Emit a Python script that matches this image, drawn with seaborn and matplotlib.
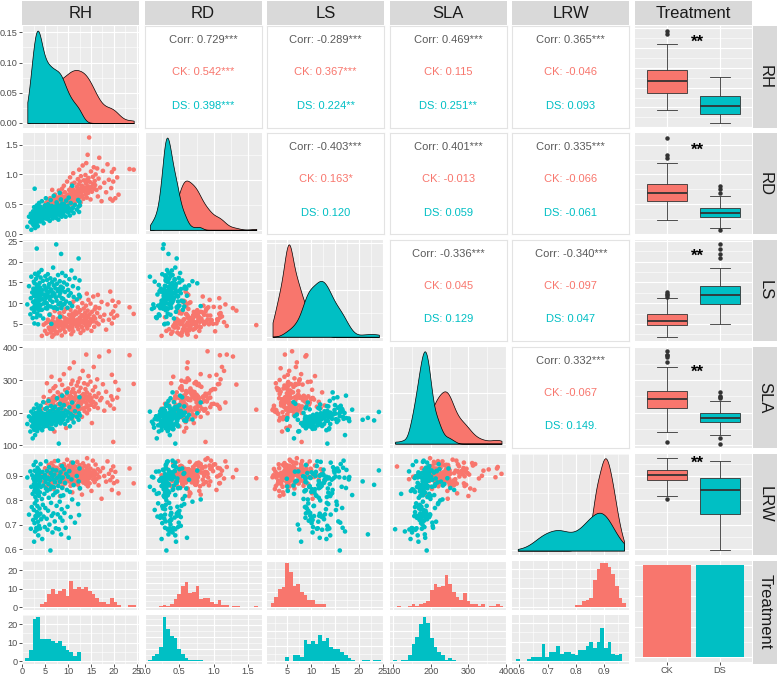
import numpy as np
import pandas as pd
import matplotlib
matplotlib.use("Agg")
import matplotlib.pyplot as plt
import seaborn as sns
from matplotlib.ticker import MultipleLocator, AutoMinorLocator, MaxNLocator, FormatStrFormatter, NullLocator

# ---------------------------------------------------------------- data
variables = ["RH", "RD", "LS", "SLA", "LRW"]
treatments = ["CK", "DS"]

CK_RH = [4.3, 4.7, 5.0, 5.2, 5.4, 5.6, 5.8, 5.9, 6.0, 6.1, 6.2, 6.3, 6.4,
         6.55, 6.62, 6.69, 6.76, 6.83, 6.9, 6.97, 7.04, 7.11, 7.18, 7.25,
         7.4, 7.52, 7.64, 7.76, 7.88, 8.0,
         8.15, 8.23, 8.31, 8.39, 8.47, 8.55, 8.63, 8.71, 8.79,
         8.95, 9.02, 9.09, 9.16, 9.23, 9.3, 9.37, 9.44, 9.51, 9.58,
         9.8, 9.91, 10.02, 10.13, 10.24, 10.35, 10.44,
         10.53, 10.58, 10.63, 10.68, 10.73, 10.78, 10.83, 10.88, 10.93, 10.98, 11.03, 11.08, 11.13, 11.18, 11.23, 11.27,
         11.4, 11.5, 11.6, 11.7, 11.8, 11.9, 12.0,
         12.13, 12.19, 12.25, 12.31, 12.37, 12.43, 12.49, 12.55, 12.61, 12.67, 12.73, 12.8,
         12.95, 13.03, 13.11, 13.19, 13.27, 13.35, 13.43, 13.51, 13.6,
         13.73, 13.79, 13.85, 13.91, 13.97, 14.03, 14.09, 14.15, 14.21, 14.27, 14.33, 14.39, 14.45,
         14.6, 14.7, 14.8, 14.9, 15.0, 15.1, 15.2,
         15.4, 15.5, 15.6, 15.7, 15.8, 15.9, 16.0,
         16.2, 16.35, 16.5, 16.65, 16.8, 17.0, 17.3, 17.6, 17.9, 18.3,
         18.6, 18.9, 19.2, 19.4, 19.55, 19.7, 19.85, 20.0, 20.3, 20.7,
         21.0, 23.4, 24.3]
CK_RD = [0.24, 0.45, 0.31, 0.52, 0.38, 0.56, 0.43, 0.50, 0.35, 0.60, 0.47, 0.53, 0.41, 0.74, 0.49, 0.55, 0.29, 0.51, 0.62, 0.44, 0.57, 0.48, 0.66, 0.53, 0.40,
         0.52, 0.61, 0.46, 0.57, 0.73, 0.50, 0.64, 0.55, 0.42, 0.59, 0.68, 0.53, 0.76, 0.48, 0.62, 0.56, 0.81, 0.51, 0.58, 0.70, 0.54, 0.45, 0.63, 0.60, 0.88,
         0.57, 0.66, 0.52, 0.74, 0.61, 0.95, 0.55, 0.69, 0.63, 0.78, 0.50, 0.72, 0.59, 0.84, 0.65, 0.53, 0.75, 0.68, 1.02, 0.58, 0.73, 0.62, 0.86, 0.67, 0.54,
         0.71, 0.60, 0.79, 0.65, 0.92, 0.74, 0.56, 0.83, 0.68, 1.08, 0.73, 0.62, 0.88, 0.76, 0.53, 0.97, 0.70, 0.81, 0.64, 1.15, 0.75, 0.59, 0.90, 0.72, 0.78,
         0.74, 0.99, 0.66, 0.85, 1.19, 0.77, 0.61, 0.91, 0.73, 1.33, 0.80, 0.69, 0.94, 1.62, 0.75, 0.87, 0.58, 1.05, 0.79, 0.71, 0.96, 0.84, 1.12, 0.76, 0.89,
         0.82, 1.00, 0.74, 1.10, 0.63, 0.93, 1.28, 0.78, 0.55, 1.06, 0.86, 0.70, 1.17, 0.91, 0.59, 0.77, 1.04, 0.56, 0.88, 1.09, 0.60, 0.95, 0.66, 1.09, 1.08]
CK_LS = [2.1, 4.8, 3.3, 5.2, 2.6, 6.0, 4.1, 5.5, 3.7, 7.3, 2.9, 5.0, 4.4, 1.9, 5.8, 3.5, 6.6, 4.9, 2.4, 5.3, 3.9, 8.1, 4.6, 5.1, 3.1,
         5.4, 2.7, 6.2, 4.3, 5.0, 7.6, 3.4, 5.6, 4.7, 9.2, 5.2, 2.2, 6.8, 4.0, 5.3, 3.8, 7.9, 5.1, 4.5, 6.4, 3.0, 5.7, 8.6, 4.8, 5.5,
         6.1, 4.2, 5.4, 7.2, 3.6, 5.9, 8.4, 5.0, 4.6, 6.7, 2.5, 5.2, 9.6, 5.6, 4.1, 7.5, 5.3, 6.3, 3.2, 10.4, 5.1, 7.0, 4.9, 5.7, 8.0,
         5.5, 7.4, 4.4, 6.0, 9.0, 5.2, 3.7, 7.8, 5.8, 11.2, 4.8, 6.5, 5.3, 8.3, 2.8, 5.9, 7.1, 4.2, 10.0, 5.4, 6.9, 3.4, 8.7, 5.1, 6.2,
         7.7, 5.0, 6.4, 9.4, 4.5, 5.7, 12.3, 7.0, 3.9, 8.2, 5.5, 6.6, 10.8, 4.7, 7.3, 5.2, 9.9, 6.1, 3.3, 7.9, 5.6, 11.6, 6.8, 4.3, 8.5,
         6.3, 9.1, 5.3, 7.6, 12.0, 4.9, 8.8, 6.7, 10.3, 5.8, 7.2, 3.6, 9.7, 6.0, 12.8, 7.4, 5.1, 10.6, 8.0, 6.5, 9.3, 7.0, 10.2, 9.0, 7.4]
CK_SLA = [212, 248, 176, 230, 290, 205, 241, 158, 222, 266, 199, 235, 310, 208, 245, 184, 227, 275, 203, 250, 142, 219, 238, 281, 196,
          243, 207, 262, 226, 188, 249, 300, 214, 236, 171, 255, 221, 285, 201, 244, 232, 318, 210, 247, 192, 269, 224, 240, 153, 258,
          228, 274, 204, 246, 336, 217, 251, 195, 239, 288, 209, 263, 225, 247, 180, 298, 231, 206, 272, 244, 215, 354, 237, 260, 199,
          249, 222, 283, 208, 243, 294, 230, 212, 265, 218, 246, 305, 211, 238, 276, 226, 252, 187, 242, 328, 213, 257, 234, 290, 204,
          245, 272, 216, 250, 378, 229, 262, 198, 241, 286, 220, 247, 312, 209, 255, 236, 295, 224, 244, 168, 268, 233, 340, 218, 251,
          279, 227, 248, 302, 214, 259, 372, 238, 245, 287, 206, 264, 231, 388, 222, 250, 316, 240, 110, 212, 294, 246, 270, 376, 288]
CK_LRW = [0.902, 0.876, 0.931, 0.889, 0.858, 0.914, 0.945, 0.897, 0.867, 0.921, 0.908, 0.883, 0.952, 0.894, 0.927, 0.871, 0.905, 0.939, 0.846, 0.912, 0.886, 0.960, 0.899, 0.918, 0.879,
          0.933, 0.893, 0.862, 0.909, 0.924, 0.887, 0.817, 0.915, 0.943, 0.898, 0.873, 0.928, 0.906, 0.855, 0.919, 0.891, 0.948, 0.881, 0.910, 0.936, 0.868, 0.903, 0.925, 0.896, 0.966,
          0.885, 0.913, 0.941, 0.877, 0.900, 0.929, 0.859, 0.907, 0.892, 0.954, 0.917, 0.870, 0.896, 0.935, 0.832, 0.911, 0.884, 0.922, 0.947, 0.899, 0.864, 0.926, 0.906, 0.880, 0.938,
          0.904, 0.875, 0.920, 0.957, 0.893, 0.863, 0.912, 0.930, 0.886, 0.901, 0.944, 0.848, 0.916, 0.878, 0.897, 0.933, 0.909, 0.823, 0.925, 0.889, 0.951, 0.872, 0.914, 0.898, 0.940,
          0.883, 0.919, 0.903, 0.866, 0.936, 0.895, 0.911, 0.972, 0.880, 0.924, 0.857, 0.906, 0.942, 0.890, 0.869, 0.915, 0.929, 0.897, 0.838, 0.910, 0.962, 0.884, 0.921, 0.900, 0.874,
          0.913, 0.946, 0.887, 0.905, 0.927, 0.861, 0.894, 0.918, 0.806, 0.932, 0.899, 0.876, 0.959, 0.908, 0.882, 0.923, 0.842, 0.895, 0.938, 0.870, 0.916, 0.877, 0.828, 0.930, 0.869]

DS_RH = [1.13, 1.5, 1.8, 1.9, 2.0, 2.1, 2.2, 2.3, 2.4, 2.45,
         2.52, 2.55, 2.58, 2.61, 2.64, 2.67, 2.7, 2.73, 2.76, 2.79, 2.82, 2.85, 2.88, 2.91, 2.94, 2.97, 3.0, 3.03, 3.06, 3.09, 3.12, 3.15, 3.18, 3.21, 3.23, 3.25, 3.27, 3.29,
         3.32, 3.36, 3.40, 3.44, 3.48, 3.52, 3.55, 3.58, 3.62, 3.65, 3.68, 3.72, 3.75, 3.78, 3.82, 3.86, 3.9, 3.94, 3.98, 4.02, 4.06,
         4.15, 4.22, 4.3, 4.37, 4.45, 4.52, 4.6, 4.68, 4.76, 4.84,
         4.93, 4.99, 5.05, 5.11, 5.17, 5.23, 5.29, 5.35, 5.41, 5.47, 5.53, 5.59, 5.65,
         5.74, 5.81, 5.88, 5.95, 6.02, 6.09, 6.16, 6.23, 6.3, 6.37, 6.44,
         6.54, 6.61, 6.68, 6.75, 6.82, 6.89, 6.96, 7.03, 7.1, 7.17, 7.24,
         7.35, 7.43, 7.51, 7.59, 7.67, 7.75, 7.83, 7.91, 7.99,
         8.13, 8.19, 8.25, 8.31, 8.37, 8.43, 8.49, 8.55, 8.61, 8.67, 8.73, 8.79, 8.85,
         8.96, 9.09, 9.22, 9.35, 9.48, 9.61, 9.76, 9.89, 10.02, 10.15, 10.28, 10.41,
         10.58, 10.74, 10.9, 11.06, 11.22, 11.5, 11.9, 12.2, 12.3, 12.4, 12.5, 12.6]
DS_RD = [0.12, 0.29, 0.20, 0.34, 0.07, 0.26, 0.31, 0.17, 0.38, 0.23, 0.30, 0.14, 0.27, 0.45, 0.21, 0.33, 0.25, 0.76, 0.19, 0.29, 0.36, 0.10, 0.28, 0.24, 0.32,
         0.30, 0.22, 0.35, 0.27, 0.41, 0.16, 0.31, 0.26, 0.48, 0.29, 0.20, 0.33, 0.38, 0.25, 0.30, 0.13, 0.36, 0.28, 0.44, 0.31, 0.23, 0.34, 0.27, 0.52, 0.30,
         0.33, 0.26, 0.40, 0.29, 0.36, 0.21, 0.46, 0.31, 0.27, 0.38, 0.32, 0.55, 0.24, 0.35, 0.30, 0.42, 0.18, 0.34, 0.29, 0.48, 0.31, 0.37, 0.26, 0.60, 0.33,
         0.36, 0.28, 0.43, 0.32, 0.39, 0.25, 0.50, 0.34, 0.30, 0.45, 0.37, 0.22, 0.41, 0.31, 0.57, 0.35, 0.29, 0.47, 0.33, 0.40, 0.26, 0.44, 0.38, 0.64, 0.31,
         0.39, 0.30, 0.46, 0.35, 0.42, 0.27, 0.53, 0.37, 0.33, 0.49, 0.40, 0.24, 0.44, 0.36, 0.69, 0.31, 0.43, 0.38, 0.58, 0.34, 0.47, 0.29, 0.41, 0.51, 0.36,
         0.42, 0.33, 0.50, 0.38, 0.45, 0.29, 0.56, 0.40, 0.47, 0.36, 0.61, 0.43, 0.31, 0.52, 0.39, 0.81, 0.44, 0.35, 0.49, 0.41, 0.57, 0.46, 0.37, 0.54, 0.48]
DS_LS = [9.7, 14.1, 7.3, 11.2, 16.4, 8.7, 12.6, 6.4, 10.3, 13.5, 8.9, 15.2, 11.8, 7.9, 12.9, 5.1, 10.1, 14.8, 9.4, 11.7, 17.1, 8.6, 13.3, 10.6, 12.0,
         11.6, 8.8, 15.9, 10.2, 13.7, 6.6, 11.9, 23.2, 9.3, 12.5, 14.4, 7.5, 13.1, 10.5, 16.7, 8.9, 11.5, 4.9, 14.0, 12.2, 9.8, 17.4, 11.1, 13.4, 8.3,
         12.4, 9.1, 14.9, 10.7, 13.8, 7.0, 11.8, 16.2, 9.6, 12.7, 18.0, 8.4, 13.2, 11.0, 15.4, 6.3, 12.1, 9.9, 14.2, 10.4, 11.9, 16.5, 8.8, 13.5, 11.3,
         13.0, 10.0, 15.6, 8.7, 12.3, 17.0, 9.4, 13.9, 11.6, 14.6, 7.2, 12.8, 10.8, 16.0, 9.2, 13.3, 5.0, 11.7, 15.1, 10.3, 12.6, 18.6, 8.9, 14.3, 11.9,
         12.2, 15.7, 9.0, 13.6, 11.4, 24.2, 10.6, 14.7, 8.6, 12.9, 16.8, 9.7, 13.4, 11.8, 15.3, 6.7, 12.5, 10.1, 14.0, 21.9, 8.8, 13.1, 11.2, 17.3, 9.5,
         13.7, 11.0, 15.0, 9.8, 12.7, 16.6, 10.4, 14.5, 8.9, 13.2, 11.8, 15.8, 10.0, 12.4, 17.9, 9.3, 14.1, 11.5, 16.1, 10.9, 13.6, 20.8, 12.0, 15.5, 11.6]
DS_SLA = [165, 188, 142, 176, 203, 158, 183, 121, 170, 195, 152, 180, 212, 167, 186, 147, 174, 198, 161, 185, 131, 172, 191, 156, 179,
          184, 163, 197, 171, 149, 189, 225, 176, 158, 193, 181, 143, 200, 168, 187, 154, 214, 178, 165, 192, 170, 183, 172, 205, 160,
          187, 169, 208, 176, 152, 194, 181, 221, 163, 190, 174, 199, 146, 185, 171, 232, 179, 157, 196, 183, 166, 211, 188, 175, 161,
          192, 173, 215, 181, 159, 199, 186, 236, 168, 194, 178, 204, 151, 189, 176, 220, 183, 164, 197, 150, 187, 209, 172, 193, 180,
          195, 176, 218, 185, 162, 202, 189, 244, 171, 198, 181, 210, 105, 192, 179, 227, 186, 167, 200, 184, 213, 174, 196, 252, 182,
          199, 179, 223, 188, 165, 206, 193, 262, 175, 201, 185, 216, 158, 196, 182, 231, 190, 170, 204, 187, 219, 178, 198, 247, 191]
DS_LRW = [0.893, 0.741, 0.918, 0.683, 0.855, 0.772, 0.902, 0.826, 0.719, 0.889, 0.944, 0.760, 0.866, 0.630, 0.881, 0.838, 0.706, 0.921, 0.787, 0.852, 0.672, 0.896, 0.813, 0.735, 0.957,
          0.878, 0.728, 0.894, 0.845, 0.686, 0.917, 0.799, 0.863, 0.751, 0.907, 0.829, 0.680, 0.890, 0.776, 0.933, 0.841, 0.712, 0.888, 0.656, 0.858, 0.737, 0.924, 0.818, 0.695, 0.898,
          0.869, 0.766, 0.913, 0.832, 0.684, 0.880, 0.745, 0.948, 0.854, 0.722, 0.895, 0.805, 0.641, 0.916, 0.781, 0.860, 0.733, 0.891, 0.826, 0.690, 0.903, 0.768, 0.875, 0.848, 0.959,
          0.887, 0.724, 0.920, 0.839, 0.679, 0.892, 0.757, 0.866, 0.810, 0.935, 0.700, 0.883, 0.845, 0.594, 0.911, 0.789, 0.856, 0.736, 0.897, 0.668, 0.925, 0.821, 0.746, 0.884, 0.853,
          0.905, 0.713, 0.873, 0.831, 0.685, 0.922, 0.777, 0.890, 0.836, 0.742, 0.962, 0.858, 0.681, 0.900, 0.794, 0.876, 0.729, 0.914, 0.817, 0.660, 0.889, 0.763, 0.940, 0.850, 0.716,
          0.893, 0.820, 0.927, 0.748, 0.871, 0.687, 0.908, 0.842, 0.773, 0.896, 0.646, 0.919, 0.834, 0.731, 0.885, 0.803, 0.954, 0.862, 0.708, 0.899, 0.784, 0.877, 0.739, 0.930, 0.849]

# correlation labels printed in the upper triangle: (overall, CK, DS)
corr_labels = {
    ("RH", "RD"): ("0.729***", "0.542***", "0.398***"),
    ("RH", "LS"): ("-0.289***", "0.367***", "0.224**"),
    ("RH", "SLA"): ("0.469***", "0.115", "0.251**"),
    ("RH", "LRW"): ("0.365***", "-0.046", "0.093"),
    ("RD", "LS"): ("-0.403***", "0.163*", "0.120"),
    ("RD", "SLA"): ("0.401***", "-0.013", "0.059"),
    ("RD", "LRW"): ("0.335***", "-0.066", "-0.061"),
    ("LS", "SLA"): ("-0.336***", "0.045", "0.129"),
    ("LS", "LRW"): ("-0.340***", "-0.097", "0.047"),
    ("SLA", "LRW"): ("0.332***", "-0.067", "0.149."),
}
signif_labels = {"RH": "**", "RD": "**", "LS": "**", "SLA": "**", "LRW": "**"}

# ---------------------------------------------------------------- table
ck_cols = [CK_RH, CK_RD, CK_LS, CK_SLA, CK_LRW]
ds_cols = [DS_RH, DS_RD, DS_LS, DS_SLA, DS_LRW]
n_ck = min(len(c) for c in ck_cols)
n_ds = min(len(c) for c in ds_cols)
frames = []
for name, cols, n in (("CK", ck_cols, n_ck), ("DS", ds_cols, n_ds)):
    d = pd.DataFrame({v: np.asarray(c[:n], float) for v, c in zip(variables, cols)})
    d["Treatment"] = name
    frames.append(d)
df = pd.concat(frames, ignore_index=True)

# ---------------------------------------------------------------- style
palette = {"CK": "#F8766D", "DS": "#00BFC4"}
PANEL_BG = "#EBEBEB"
STRIP_BG = "#D9D9D9"
TICK_COL = "#4D4D4D"
plt.rcParams["font.family"] = ["Liberation Sans", "DejaVu Sans"]

steps = {"RH": 5, "RD": 0.5, "LS": 5, "SLA": 100, "LRW": 0.1}
fmts = {"RH": "%g", "RD": "%.1f", "LS": "%g", "SLA": "%g", "LRW": "%.1f"}

W, H = 780, 676
COL_X = [22 + 122.6 * i for i in range(6)]
COL_W = 117
ROW_Y = [26 + 106.9 * j for j in range(6)]
ROW_H = 101.5
SUB_H = 49
SUB_GAP = 5
TICK_FS = 6.6

fig = plt.figure(figsize=(W / 100, H / 100), dpi=100)
fig.patch.set_facecolor("white")


def ax_at(x, y, w, h):
    return fig.add_axes([x / W, 1 - (y + h) / H, w / W, h / H])


def lims(v):
    lo, hi = df[v].min(), df[v].max()
    pad = 0.05 * (hi - lo)
    return lo - pad, hi + pad


def base_style(ax):
    ax.set_facecolor(PANEL_BG)
    for s in ax.spines.values():
        s.set_visible(False)
    ax.set_axisbelow(True)
    ax.grid(True, which="major", color="white", lw=0.85)
    ax.grid(True, which="minor", color="white", lw=0.4)
    ax.set_xlabel("")
    ax.set_ylabel("")
    ax.tick_params(which="both", length=0, labelbottom=False, labelleft=False,
                   bottom=False, left=False)


def var_axis(axis, v):
    axis.set_major_locator(MultipleLocator(steps[v]))
    axis.set_minor_locator(AutoMinorLocator(2))
    axis.set_major_formatter(FormatStrFormatter(fmts[v]))


def show_x(ax):
    ax.tick_params(axis="x", which="major", bottom=True, length=2.2, width=0.6, color="#333333",
                   labelbottom=True, labelsize=TICK_FS, labelcolor=TICK_COL, pad=0.6)


def show_y(ax):
    ax.tick_params(axis="y", which="major", left=True, length=2.2, width=0.6, color="#333333",
                   labelleft=True, labelsize=TICK_FS, labelcolor=TICK_COL, pad=0.8)


def cat_axis(ax):
    ax.set_xlim(-0.6, 1.6)
    ax.set_xticks([0, 1])
    ax.set_xticklabels(treatments)
    ax.xaxis.set_minor_locator(NullLocator())


# ---------------------------------------------------------------- panels
nv = len(variables)
for j in range(6):          # rows
    for i in range(6):      # cols
        x0, y0 = COL_X[i], ROW_Y[j]
        if j < nv and i < nv:
            yv, xv = variables[j], variables[i]
            if i == j:
                ax = ax_at(x0, y0, COL_W, ROW_H)
                sns.kdeplot(data=df, x=xv, hue="Treatment", hue_order=["DS", "CK"], palette=palette,
                            fill=True, common_norm=False, common_grid=True, cut=0,
                            bw_method="silverman", bw_adjust=0.85, alpha=1,
                            edgecolor="black", linewidth=0.5, legend=False, ax=ax)
                ymax = max(c.get_paths()[0].vertices[:, 1].max() for c in ax.collections)
                base_style(ax)
                ax.set_xlim(*lims(xv))
                ax.set_ylim(-0.05 * ymax, 1.05 * ymax)
                var_axis(ax.xaxis, xv)
                ax.yaxis.set_major_locator(MaxNLocator(4, steps=[1, 2, 2.5, 5, 10]))
                ax.yaxis.set_minor_locator(AutoMinorLocator(2))
                ax.yaxis.set_major_formatter(FormatStrFormatter("%.2f"))
                if i == 0:
                    show_y(ax)
            elif i < j:
                ax = ax_at(x0, y0, COL_W, ROW_H)
                sns.scatterplot(data=df, x=xv, y=yv, hue="Treatment", hue_order=treatments,
                                palette=palette, s=11, linewidth=0, legend=False, ax=ax)
                base_style(ax)
                ax.set_xlim(*lims(xv))
                ax.set_ylim(*lims(yv))
                var_axis(ax.xaxis, xv)
                var_axis(ax.yaxis, yv)
                if i == 0:
                    show_y(ax)
            else:
                ax = ax_at(x0, y0, COL_W, ROW_H)
                ax.set_facecolor("white")
                ax.set_xticks([])
                ax.set_yticks([])
                for s in ax.spines.values():
                    s.set_color("#E3E3E3")
                    s.set_linewidth(0.8)
                lab = corr_labels[(xv, yv)] if (xv, yv) in corr_labels else corr_labels[(yv, xv)]
                for txt, yy, col in ((f"Corr: {lab[0]}", 0.86, "#595959"),
                                     (f"CK: {lab[1]}", 0.545, palette["CK"]),
                                     (f"DS: {lab[2]}", 0.215, palette["DS"])):
                    ax.text(0.5, yy, txt, ha="center", va="center", color=col,
                            fontsize=8, transform=ax.transAxes)
        elif j < nv and i == nv:
            # boxplots in the Treatment column
            yv = variables[j]
            ax = ax_at(x0, y0, COL_W, ROW_H)
            sns.boxplot(data=df, x="Treatment", y=yv, hue="Treatment", order=treatments,
                        hue_order=treatments, palette=palette, saturation=1, width=0.76,
                        linecolor="#333333", linewidth=0.6, fliersize=2.2,
                        flierprops={"marker": "o", "markerfacecolor": "#333333",
                                    "markeredgecolor": "#333333"},
                        medianprops={"linewidth": 1.3, "color": "#333333"},
                        legend=False, ax=ax)
            base_style(ax)
            cat_axis(ax)
            ax.set_ylim(*lims(yv))
            var_axis(ax.yaxis, yv)
            sig_y = {"RH": 0.84, "RD": 0.83, "LS": 0.835, "SLA": 0.75, "LRW": 0.905}[yv]
            ax.text(0.535, sig_y, signif_labels[yv], ha="center", va="center",
                    fontsize=12, fontweight="bold", color="black", transform=ax.transAxes)
        elif j == nv and i < nv:
            # faceted histograms in the bottom row
            xv = variables[i]
            lo, hi = df[xv].min(), df[xv].max()
            w = (hi - lo) / 29
            edges = lo - w / 2 + w * np.arange(31)
            subs = []
            for k, t in enumerate(treatments):
                sax = ax_at(x0, y0 + k * (SUB_H + SUB_GAP), COL_W, SUB_H)
                sns.histplot(data=df[df["Treatment"] == t], x=xv, bins=edges, color=palette[t],
                             alpha=1, linewidth=0, edgecolor="none", ax=sax)
                subs.append(sax)
            cmax = max(p.get_height() for s_ in subs for p in s_.patches)
            for k, sax in enumerate(subs):
                base_style(sax)
                sax.set_xlim(*lims(xv))
                sax.set_ylim(-0.05 * cmax, 1.05 * cmax)
                var_axis(sax.xaxis, xv)
                sax.yaxis.set_major_locator(MultipleLocator(10))
                sax.yaxis.set_minor_locator(AutoMinorLocator(2))
                sax.yaxis.set_major_formatter(FormatStrFormatter("%d"))
                if i == 0:
                    show_y(sax)
                if k == 1:
                    show_x(sax)
        else:
            # count bars in the corner
            ax = ax_at(x0, y0, COL_W, ROW_H)
            sns.countplot(data=df, x="Treatment", hue="Treatment", order=treatments,
                          hue_order=treatments, palette=palette, saturation=1, width=0.9,
                          linewidth=0, legend=False, ax=ax)
            base_style(ax)
            cat_axis(ax)
            cnt = df["Treatment"].value_counts().max()
            ax.set_ylim(-0.05 * cnt, 1.05 * cnt)
            ax.yaxis.set_major_locator(MaxNLocator(4, steps=[1, 2, 2.5, 5, 10]))
            ax.yaxis.set_minor_locator(AutoMinorLocator(2))
            show_x(ax)

# ---------------------------------------------------------------- strips
strip_names = variables + ["Treatment"]
for i, name in enumerate(strip_names):
    sax = ax_at(COL_X[i], 1, COL_W, 24)
    sax.set_facecolor(STRIP_BG)
    sax.set_xticks([]); sax.set_yticks([])
    for s in sax.spines.values():
        s.set_visible(False)
    sax.text(0.5, 0.47, name, ha="center", va="center", fontsize=12, color="#1A1A1A",
             transform=sax.transAxes)
for j, name in enumerate(strip_names):
    sax = ax_at(753, ROW_Y[j], 24, ROW_H if j < 5 else 103)
    sax.set_facecolor(STRIP_BG)
    sax.set_xticks([]); sax.set_yticks([])
    for s in sax.spines.values():
        s.set_visible(False)
    sax.text(0.5, 0.5, name, ha="center", va="center", fontsize=12, color="#1A1A1A",
             rotation=-90, transform=sax.transAxes)

fig.savefig("out.png", dpi=100, facecolor="white")
